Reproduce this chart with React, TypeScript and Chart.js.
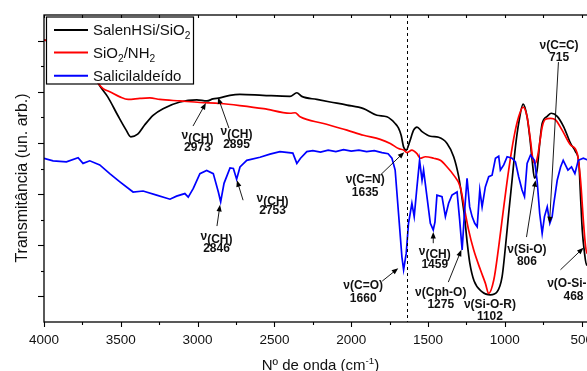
import React, { useEffect, useRef } from "react";
import { Chart, registerables } from "chart.js";

Chart.register(...registerables);

// ---------- data (wavenumber in cm-1, transmittance in arbitrary units) ----------
const blackWn = [4000, 3900, 3800, 3720, 3640, 3585, 3520, 3465, 3435, 3390, 3345, 3290, 3225, 3115, 3005, 2940, 2900, 2855, 2790, 2725, 2575, 2398, 2354, 2322, 2224, 2137, 2028, 1920, 1833, 1768, 1714, 1692, 1675, 1659, 1642, 1620, 1594, 1572, 1539, 1485, 1431, 1376, 1333, 1301, 1285, 1262, 1245, 1228, 1200, 1148, 1094, 1050, 1018, 996, 975, 953, 931, 910, 881, 855, 838, 822, 807, 790, 773, 757, 724, 698, 659, 616, 572, 540, 518, 507, 496, 481, 468, 450, 420, 400];
const blackT = [55.1, 54.6, 53.5, 51.0, 46.3, 44.0, 40.4, 37.5, 36.2, 36.7, 38.5, 40.4, 41.7, 43.0, 43.4, 43.2, 43.6, 43.8, 44.3, 44.5, 44.3, 44.1, 44.8, 44.1, 43.5, 43.0, 42.4, 41.7, 40.4, 40.1, 38.8, 37.9, 36.5, 34.2, 33.6, 35.2, 37.5, 38.1, 37.2, 36.3, 36.1, 34.9, 32.3, 28.5, 25.5, 20.5, 15.5, 11.5, 8.0, 5.9, 5.3, 5.9, 8.8, 14.7, 21.2, 27.7, 34.2, 38.8, 42.6, 40.1, 36.2, 31.6, 28.1, 29.7, 34.9, 38.8, 40.2, 40.8, 40.2, 38.1, 34.9, 33.3, 31.0, 24.5, 18.0, 13.4, 11.1, 13.0, 20.0, 25.0];

const redWn = [4000, 3900, 3800, 3720, 3646, 3615, 3572, 3506, 3452, 3376, 3311, 3246, 3115, 2985, 2855, 2725, 2570, 2398, 2365, 2333, 2180, 2028, 1920, 1811, 1746, 1692, 1659, 1637, 1605, 1572, 1550, 1518, 1463, 1420, 1376, 1333, 1290, 1257, 1236, 1203, 1159, 1127, 1105, 1072, 1040, 1007, 975, 942, 910, 881, 855, 833, 816, 801, 786, 773, 757, 736, 703, 670, 627, 572, 529, 507, 489, 474, 463, 440, 400];
const redT = [55.1, 54.5, 53.0, 50.5, 46.6, 45.6, 45.0, 44.0, 43.5, 43.7, 43.8, 43.5, 43.2, 42.9, 42.7, 42.3, 41.7, 40.8, 40.9, 40.1, 38.8, 37.5, 36.5, 35.7, 34.9, 33.9, 33.6, 33.1, 33.6, 32.9, 32.0, 32.3, 32.0, 31.6, 30.3, 28.7, 26.4, 21.2, 18.0, 14.1, 10.2, 7.6, 5.6, 8.2, 14.7, 22.5, 29.7, 35.9, 40.1, 42.0, 40.1, 35.5, 31.6, 31.0, 32.5, 35.0, 38.1, 39.6, 39.8, 39.5, 37.5, 34.6, 33.0, 27.7, 19.9, 14.7, 13.4, 15.0, 22.0];

const blueWn = [4000, 3941, 3854, 3778, 3746, 3702, 3637, 3572, 3506, 3420, 3355, 3267, 3180, 3137, 3083, 3061, 3028, 2985, 2941, 2898, 2865, 2850, 2828, 2789, 2767, 2746, 2724, 2680, 2594, 2529, 2464, 2380, 2354, 2330, 2289, 2250, 2200, 2150, 2100, 2050, 2000, 1950, 1900, 1850, 1800, 1760, 1735, 1714, 1692, 1670, 1659, 1642, 1627, 1605, 1590, 1572, 1555, 1539, 1529, 1507, 1485, 1466, 1455, 1442, 1409, 1387, 1366, 1344, 1311, 1294, 1278, 1263, 1246, 1229, 1213, 1196, 1180, 1163, 1148, 1127, 1105, 1083, 1061, 1040, 1029, 1007, 985, 953, 931, 910, 888, 872, 855, 833, 807, 790, 773, 757, 742, 724, 707, 692, 681, 659, 637, 620, 589, 566, 544, 522, 489, 457, 400];
const blueT = [32.0, 31.5, 31.3, 32.1, 31.0, 31.5, 30.7, 29.0, 27.4, 25.4, 25.6, 24.8, 24.0, 24.6, 25.1, 24.4, 26.1, 29.0, 29.6, 29.0, 25.4, 23.5, 27.1, 30.1, 30.0, 27.9, 30.3, 31.6, 32.2, 32.8, 33.3, 33.0, 31.0, 32.0, 33.3, 33.5, 33.2, 33.6, 33.3, 33.7, 33.4, 33.6, 33.3, 33.5, 33.1, 32.9, 32.0, 29.7, 21.2, 12.7, 10.2, 13.4, 19.3, 23.2, 20.6, 26.4, 31.6, 27.7, 29.7, 24.5, 19.3, 18.0, 19.5, 24.8, 24.5, 20.6, 23.2, 24.8, 25.4, 19.9, 14.1, 21.2, 28.1, 22.5, 20.6, 19.3, 18.6, 25.8, 22.5, 26.4, 28.4, 28.7, 32.0, 32.4, 29.7, 30.7, 32.3, 32.0, 31.3, 28.4, 25.8, 24.5, 31.0, 32.6, 31.6, 27.7, 21.2, 17.3, 20.6, 22.5, 19.3, 20.6, 23.2, 27.7, 30.3, 31.6, 29.7, 30.3, 29.0, 31.6, 32.0, 31.6, 31.0];

const seriesNames = ["SalenHSi/SiO_{2}", "SiO_{2}/NH_{2}", "Salicilaldeído"];
const seriesColors = ["#000000", "#ff0000", "#0000ff"];

const xMajorTicks = [4000, 3500, 3000, 2500, 2000, 1500, 1000, 500];
const xMinorTicks = [3750, 3250, 2750, 2250, 1750, 1250, 750];
const yMajorTicks = [5, 15, 25, 35, 45, 55];
const yMinorTicks = [10, 20, 30, 40, 50];

const xTitle = "Nº de onda (cm^{-1})";
const yTitle = "Transmitância (un. arb.)";
const dashedLineWn = 1635;

// annotations: label, number, label centre (wn, T), arrow from -> to (wn, T)
const annLabels = ["ν_{(CH)}", "ν_{(CH)}", "ν_{(CH)}", "ν_{(CH)}", "ν(C=N)", "ν(C=O)", "ν_{(CH)}", "ν(Cph-O)", "ν(Si-O-R)", "ν(Si-O)", "ν(C=C)", "ν(O-Si-O)"];
const annNumbers = ["2973", "2895", "2846", "2753", "1635", "1660", "1459", "1275", "1102", "806", "715", "468"];
const annWn = [3001, 2747, 2877, 2512, 1909, 1922, 1456, 1417, 1097, 856, 647, 553];
const annT = [35.4, 36.1, 15.7, 23.1, 26.7, 6.05, 12.7, 4.7, 2.4, 13.1, 53.0, 6.4];
const arrowFromWn = [3030, 2796, 2874, 2704, 1811, 1798, 1466, 1368, null, 859, 651, 638];
const arrowFromT = [38.3, 37.9, 18.75, 23.8, 28.7, 8.0, 15.4, 7.8, null, 16.6, 50.8, 10.2];
const arrowToWn = [2946, 2867, 2854, 2744, 1655, 1694, 1466, 1283, null, 800, 709, 488];
const arrowToT = [42.8, 43.9, 22.9, 27.7, 33.2, 10.5, 17.6, 14.1, null, 27.7, 19.3, 14.5];

// ---------- helpers ----------
const FONT = '"Liberation Sans", Arial, Helvetica, sans-serif';

type Seg = { t: string; mode: "n" | "sub" | "sup" };
function parseRich(s: string): Seg[] {
  const out: Seg[] = [];
  const re = /([_^])\{([^}]*)\}/g;
  let last = 0;
  let m: RegExpExecArray | null;
  while ((m = re.exec(s))) {
    if (m.index > last) out.push({ t: s.slice(last, m.index), mode: "n" });
    out.push({ t: m[2], mode: m[1] === "_" ? "sub" : "sup" });
    last = re.lastIndex;
  }
  if (last < s.length) out.push({ t: s.slice(last), mode: "n" });
  return out;
}

type RichOpt = { size: number; weight: string; align: "left" | "center"; subScale: number; subShift: number; supScale: number; supShift: number; color: string };
function drawRich(ctx: CanvasRenderingContext2D, s: string, x: number, y: number, o: RichOpt) {
  const segs = parseRich(s);
  const fontFor = (mode: string) => {
    const sz = mode === "n" ? o.size : o.size * (mode === "sub" ? o.subScale : o.supScale);
    return `${o.weight} ${sz}px ${FONT}`;
  };
  const widths: number[] = [];
  let total = 0;
  for (const sg of segs) {
    ctx.font = fontFor(sg.mode);
    const w = ctx.measureText(sg.t).width;
    widths.push(w);
    total += w;
  }
  let cx = o.align === "center" ? x - total / 2 : x;
  ctx.textAlign = "left";
  ctx.textBaseline = "alphabetic";
  ctx.fillStyle = o.color;
  segs.forEach((sg, i) => {
    ctx.font = fontFor(sg.mode);
    const dy = sg.mode === "sub" ? o.subShift : sg.mode === "sup" ? -o.supShift : 0;
    ctx.fillText(sg.t, cx, y + dy);
    cx += widths[i];
  });
}

function drawArrow(ctx: CanvasRenderingContext2D, x1: number, y1: number, x2: number, y2: number) {
  const ang = Math.atan2(y2 - y1, x2 - x1);
  const L = 6.5;
  const W = 2.6;
  ctx.beginPath();
  ctx.moveTo(x1, y1);
  ctx.lineTo(x2 - Math.cos(ang) * L * 0.7, y2 - Math.sin(ang) * L * 0.7);
  ctx.stroke();
  ctx.beginPath();
  ctx.moveTo(x2, y2);
  ctx.lineTo(x2 - L * Math.cos(ang) + W * Math.sin(ang), y2 - L * Math.sin(ang) - W * Math.cos(ang));
  ctx.lineTo(x2 - L * Math.cos(ang) - W * Math.sin(ang), y2 - L * Math.sin(ang) + W * Math.cos(ang));
  ctx.closePath();
  ctx.fill();
}

const overlay = {
  id: "overlay",
  afterDatasetsDraw(chart: any) {
    const ctx: CanvasRenderingContext2D = chart.ctx;
    const a = chart.chartArea;
    const xs = chart.scales.x;
    const ys = chart.scales.y;
    ctx.save();

    // dashed vertical line
    ctx.strokeStyle = "#000";
    ctx.lineWidth = 1;
    ctx.setLineDash([3, 3]);
    const dx = Math.round(xs.getPixelForValue(dashedLineWn)) + 0.5;
    ctx.beginPath();
    ctx.moveTo(dx, a.top);
    ctx.lineTo(dx, a.bottom);
    ctx.stroke();
    ctx.setLineDash([]);

    // annotations
    ctx.lineWidth = 0.9;
    ctx.fillStyle = "#000";
    for (let i = 0; i < annLabels.length; i++) {
      const cx = xs.getPixelForValue(annWn[i]);
      const cy = ys.getPixelForValue(annT[i]);
      const o: RichOpt = { size: 12, weight: "bold", align: "center", subScale: 1, subShift: 3, supScale: 0.7, supShift: 4, color: "#111" };
      drawRich(ctx, annLabels[i], cx, cy - 2, o);
      drawRich(ctx, annNumbers[i], cx, cy + 10.5, o);
      if (arrowFromWn[i] !== null) {
        ctx.strokeStyle = "#000";
        ctx.fillStyle = "#000";
        drawArrow(
          ctx,
          xs.getPixelForValue(arrowFromWn[i] as number),
          ys.getPixelForValue(arrowFromT[i] as number),
          xs.getPixelForValue(arrowToWn[i] as number),
          ys.getPixelForValue(arrowToT[i] as number)
        );
      }
    }

    // legend
    const lx = a.left + 2;
    const ly = a.top + 1.5;
    const lw = 147;
    const lh = 67;
    ctx.fillStyle = "#fff";
    ctx.fillRect(lx, ly, lw, lh);
    ctx.strokeStyle = "#000";
    ctx.lineWidth = 1.2;
    ctx.strokeRect(lx + 0.5, ly + 0.5, lw, lh);
    const rowY = [13.5, 36, 59.3];
    seriesNames.forEach((name, i) => {
      const yy = ly + rowY[i];
      ctx.strokeStyle = seriesColors[i];
      ctx.lineWidth = 2;
      ctx.beginPath();
      ctx.moveTo(lx + 8, yy);
      ctx.lineTo(lx + 42, yy);
      ctx.stroke();
      drawRich(ctx, name, lx + 47, yy + 5.3, { size: 15, weight: "normal", align: "left", subScale: 0.68, subShift: 4, supScale: 0.68, supShift: 5, color: "#111" });
    });

    // frame
    ctx.strokeStyle = "#000";
    ctx.lineWidth = 1.3;
    ctx.strokeRect(a.left, a.top, a.right - a.left, a.bottom - a.top);

    // x ticks (bottom outward, top inward)
    ctx.lineWidth = 1.1;
    const xt = (v: number, len: number, topLen: number) => {
      const px = Math.round(xs.getPixelForValue(v)) + 0.5;
      ctx.beginPath();
      ctx.moveTo(px, a.bottom);
      ctx.lineTo(px, a.bottom + len);
      ctx.moveTo(px, a.top);
      ctx.lineTo(px, a.top + topLen);
      ctx.stroke();
    };
    xMajorTicks.forEach((v) => xt(v, 5, 3));
    xMinorTicks.forEach((v) => xt(v, 3, 3));
    const yt = (v: number, len: number) => {
      const py = Math.round(ys.getPixelForValue(v)) + 0.5;
      ctx.beginPath();
      ctx.moveTo(a.left, py);
      ctx.lineTo(a.left - len, py);
      ctx.stroke();
    };
    yMajorTicks.forEach((v) => yt(v, 6));
    yMinorTicks.forEach((v) => yt(v, 3));

    // x tick labels
    ctx.fillStyle = "#111";
    ctx.font = `13.5px ${FONT}`;
    ctx.textAlign = "center";
    ctx.textBaseline = "alphabetic";
    xMajorTicks.forEach((v) => {
      ctx.fillText(String(v), xs.getPixelForValue(v), a.bottom + 22);
    });

    // axis titles
    drawRich(ctx, xTitle, (a.left + a.right) / 2, a.bottom + 48, { size: 15, weight: "normal", align: "center", subScale: 0.65, subShift: 4, supScale: 0.65, supShift: 6, color: "#111" });
    ctx.save();
    ctx.translate(26.5, 178);
    ctx.rotate(-Math.PI / 2);
    drawRich(ctx, yTitle, 0, 0, { size: 16, weight: "normal", align: "center", subScale: 0.65, subShift: 4, supScale: 0.65, supShift: 6, color: "#111" });
    ctx.restore();

    ctx.restore();
  },
};

function toPoints(xs: number[], ys: number[]) {
  return xs.map((x, i) => ({ x, y: ys[i] }));
}

export default function App() {
  const ref = useRef<HTMLCanvasElement>(null);
  useEffect(() => {
    if (!ref.current) return;
    const chart = new Chart(ref.current, {
      type: "line",
      data: {
        datasets: [
          { label: seriesNames[0], data: toPoints(blackWn, blackT), borderColor: seriesColors[0], borderWidth: 1.7, pointRadius: 0, cubicInterpolationMode: "monotone", order: 3 },
          { label: seriesNames[1], data: toPoints(redWn, redT), borderColor: seriesColors[1], borderWidth: 1.7, pointRadius: 0, cubicInterpolationMode: "monotone", order: 2 },
          { label: seriesNames[2], data: toPoints(blueWn, blueT), borderColor: seriesColors[2], borderWidth: 1.7, pointRadius: 0, tension: 0, order: 1 },
        ] as any,
      },
      options: {
        animation: false,
        responsive: false,
        maintainAspectRatio: false,
        events: [],
        layout: { padding: { left: 44, top: 15, right: 23, bottom: 49 } },
        plugins: { legend: { display: false }, tooltip: { enabled: false } },
        scales: {
          x: { type: "linear", reverse: true, min: 400, max: 4000, display: false },
          y: { type: "linear", min: 0, max: 60, display: false },
        },
      },
      plugins: [overlay],
    });
    return () => chart.destroy();
  }, []);
  return (
    <div style={{ position: "fixed", left: 0, top: 0, width: 587, height: 371, overflow: "hidden", background: "#fff" }}>
      <canvas ref={ref} width={620} height={371} style={{ display: "block", width: 620, height: 371 }} />
    </div>
  );
}
